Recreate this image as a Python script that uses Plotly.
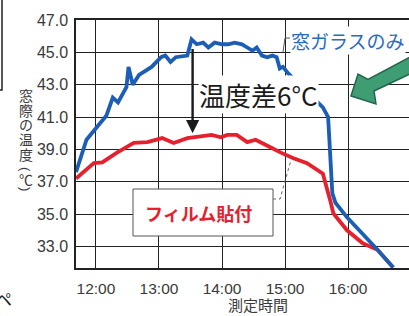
import plotly.graph_objects as go

DAY = "2024-01-01 "

blue_times = ["11:41", "11:51", "12:10", "12:16", "12:21", "12:29", "12:31", "12:35", "12:41", "12:53",
              "13:02", "13:06", "13:11", "13:16", "13:27", "13:31", "13:36", "13:42", "13:47", "13:53",
              "14:00", "14:06", "14:12", "14:19", "14:24", "14:29", "14:33", "14:38", "14:43", "14:48",
              "14:52", "14:55", "14:58", "15:03", "15:36", "15:41", "15:45", "15:48", "15:59", "16:11",
              "16:28", "16:43"]
blue_vals = [37.6, 39.6, 41.1, 42.2, 41.9, 42.85, 44.1, 43.0, 43.6, 44.1,
             44.7, 44.8, 44.4, 44.7, 44.8, 45.8, 45.5, 45.6, 45.3, 45.6,
             45.5, 45.5, 45.6, 45.5, 45.3, 45.1, 45.3, 44.8, 44.7, 44.8,
             44.7, 44.0, 44.1, 43.7, 41.6, 41.0, 36.3, 35.7, 34.8, 34.0,
             32.8, 31.7]

red_times = ["11:41", "11:50", "11:58", "12:06", "12:20", "12:36", "12:49", "13:03", "13:14", "13:27",
             "13:40", "13:50", "13:59", "14:05", "14:14", "14:24", "14:32", "14:37", "14:47", "14:56",
             "15:08", "15:21", "15:36", "15:43", "15:46", "15:59", "16:14", "16:28", "16:43"]
red_vals = [37.2, 37.7, 38.15, 38.2, 38.8, 39.4, 39.45, 39.7, 39.4, 39.7,
            39.8, 39.9, 39.75, 39.9, 39.9, 39.45, 39.6, 39.45, 39.1, 38.8,
            38.45, 38.15, 37.5, 35.85, 35.05, 34.0, 33.2, 32.8, 31.7]

y_ticks = [33.0, 35.0, 37.0, 39.0, 41.0, 43.0, 45.0, 47.0]
x_ticks = ["12:00", "13:00", "14:00", "15:00", "16:00"]
x_extra_tick = "17:00"
x_range = ["11:41", "16:58"]
y_range = [31.67, 47.0]

blue_label = "窓ガラスのみ"
red_label = "フィルム貼付"
diff_label = "温度差6°C"
x_title = "測定時間"
y_title_chars = ["窓", "際", "の", "温", "度", "(", "℃", ")"]
diff_arrow_time = "13:32"
diff_arrow_top = 45.3
diff_arrow_bottom = 40.0

BLUE = "#1c5db6"
RED = "#e6212d"
GRID = "#222222"
TXT = "#3a3a3a"
CJK = "Noto Sans CJK JP"
LAT = "Liberation Sans, Arial, sans-serif"

W, H = 409, 316
PL, PT, PW, PH = 76, 20, 333, 248


def px(x):
    return (x - PL) / PW


def py(y):
    return (PT + PH - y) / PH


fig = go.Figure()
fig.add_trace(go.Scatter(x=[DAY + t for t in red_times], y=red_vals, mode="lines",
                         line=dict(color=RED, width=3.8), showlegend=False))
fig.add_trace(go.Scatter(x=[DAY + t for t in blue_times], y=blue_vals, mode="lines",
                         line=dict(color=BLUE, width=3.8), showlegend=False))

fig.update_layout(
    width=W, height=H,
    margin=dict(l=PL, r=W - PL - PW, t=PT, b=H - PT - PH),
    paper_bgcolor="white", plot_bgcolor="white",
    showlegend=False,
    xaxis=dict(
        range=[DAY + x_range[0], DAY + x_range[1]],
        type="date",
        tickvals=[DAY + t for t in x_ticks], ticktext=x_ticks,
        showgrid=True, gridcolor=GRID, gridwidth=1.3,
        showline=True, linecolor=GRID, linewidth=1.5, mirror=True,
        ticks="", ticklabelstandoff=6,
        tickfont=dict(family=LAT, size=15.5, color=TXT),
        zeroline=False,
    ),
    yaxis=dict(
        range=y_range,
        tickvals=y_ticks, ticktext=[f"{v:.1f}" for v in y_ticks],
        showgrid=True, gridcolor=GRID, gridwidth=1.3,
        showline=True, linecolor=GRID, linewidth=1.5,
        ticks="", ticklabelstandoff=3,
        tickfont=dict(family=LAT, size=16, color=TXT),
        zeroline=False,
    ),
)

ann = []
# 17:00 label cut by the right edge
ann.append(dict(x=DAY + x_extra_tick, y=0, xref="x", yref="paper", text=x_extra_tick,
                showarrow=False, xanchor="center", yanchor="top", yshift=-6,
                font=dict(family=LAT, size=15.5, color=TXT)))
# x axis title
ann.append(dict(x=px(257.5), y=py(304), xref="paper", yref="paper", text=x_title,
                showarrow=False, xanchor="center", yanchor="middle",
                font=dict(family=CJK, size=15, color=TXT)))
# y axis title, stacked vertically (brackets turned like vertical writing)
y_centers = [95, 110, 124, 138.5, 153.5, 169, 179, 189]
for ch, yc in zip(y_title_chars, y_centers):
    is_br = ch in "()"
    ann.append(dict(x=px(26), y=py(yc), xref="paper", yref="paper", text=ch,
                    showarrow=False, xanchor="center", yanchor="middle",
                    textangle=90 if is_br else 0,
                    font=dict(family=LAT if is_br else CJK, size=13 if is_br else 14, color=TXT)))
# difference arrow
ann.append(dict(x=DAY + diff_arrow_time, y=diff_arrow_bottom, xref="x", yref="y",
                ax=DAY + diff_arrow_time, ay=diff_arrow_top, axref="x", ayref="y",
                text="", showarrow=True, arrowhead=2, arrowsize=1.1, arrowwidth=2.4,
                arrowcolor="#1a1a1a"))
# big text
ann.append(dict(x=px(258), y=py(95), xref="paper", yref="paper", text=diff_label,
                showarrow=False, xanchor="center", yanchor="middle",
                bgcolor="white", borderpad=0,
                font=dict(family=CJK, size=26, color="#1a1a1a")))
# blue label
ann.append(dict(x=px(290), y=py(40), xref="paper", yref="paper", text=blue_label,
                showarrow=False, xanchor="left", yanchor="middle",
                bgcolor="white", borderpad=0,
                font=dict(family=CJK, size=19, color="#2a6bc2")))
# red label
ann.append(dict(x=px(198.5), y=py(213), xref="paper", yref="paper", text="<b>" + red_label + "</b>",
                showarrow=False, xanchor="center", yanchor="middle",
                font=dict(family=CJK, size=18, color=RED)))
# stray scan character at bottom-left
ann.append(dict(x=px(3), y=py(298), xref="paper", yref="paper", text="ペ",
                showarrow=False, xanchor="center", yanchor="middle",
                font=dict(family=CJK, size=17, color="#222")))
fig.update_layout(annotations=ann)

shapes = []
# box for red label
shapes.append(dict(type="rect", xref="paper", yref="paper",
                   x0=px(133), x1=px(273), y0=py(236), y1=py(189),
                   fillcolor="white", line=dict(color="#555", width=1), layer="above"))
# leader line for red label
shapes.append(dict(type="path", xref="paper", yref="paper",
                   path=f"M {px(273)},{py(199)} L {px(280)},{py(199)} L {px(291)},{py(160)}",
                   line=dict(color="#666", width=1, dash="dot"), layer="above"))
# leader for blue label
shapes.append(dict(type="path", xref="paper", yref="paper",
                   path=f"M {px(290)},{py(38)} L {px(285)},{py(38)} L {px(283)},{py(52)}",
                   line=dict(color="#555", width=1), layer="above"))
# green arrow
pts = [(351, 96), (358, 74), (368, 79.5), (414, 55), (418, 70), (374, 91), (376, 104)]
path = "M " + " L ".join(f"{px(x)},{py(y)}" for x, y in pts) + " Z"
shapes.append(dict(type="path", xref="paper", yref="paper", path=path,
                   fillcolor="#3e9d73", line=dict(color="#25634a", width=1.5), layer="above"))
# scan edge of neighbouring box at top-left
shapes.append(dict(type="path", xref="paper", yref="paper",
                   path=f"M {px(2)},{py(-2)} L {px(2)},{py(90)} L {px(-2)},{py(90)}",
                   line=dict(color="#222", width=1.5), layer="above"))
fig.update_layout(shapes=shapes)

fig.write_html("out.html", config={"displayModeBar": False},
               post_script="document.body.style.margin='0px';document.body.style.overflow='hidden';")
